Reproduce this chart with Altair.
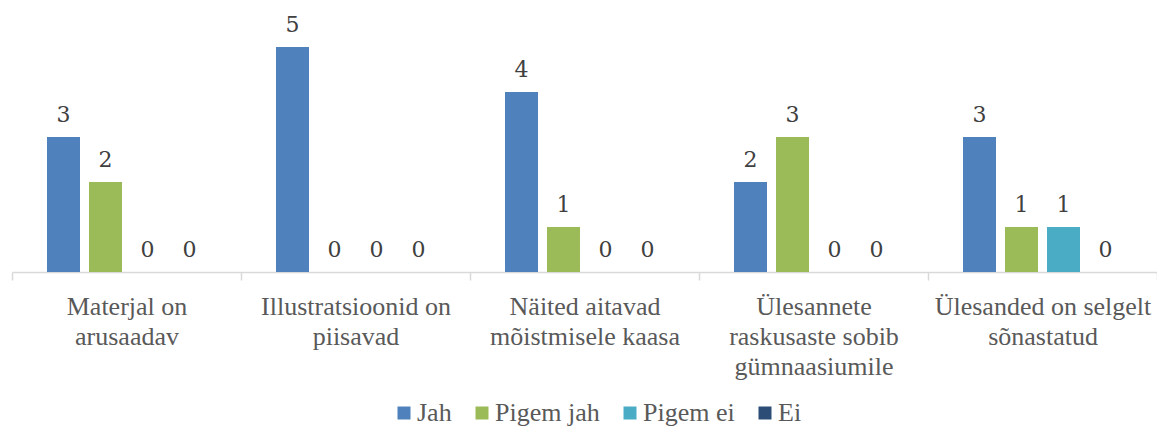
import altair as alt
import pandas as pd

categories = [
    "Materjal on|arusaadav",
    "Illustratsioonid on|piisavad",
    "Näited aitavad|mõistmisele kaasa",
    "Ülesannete|raskusaste sobib|gümnaasiumile",
    "Ülesanded on selgelt|sõnastatud",
]
series = ["Jah", "Pigem jah", "Pigem ei", "Ei"]
jah = [3, 5, 4, 2, 3]
pigem_jah = [2, 0, 1, 3, 1]
pigem_ei = [0, 0, 0, 0, 1]
ei = [0, 0, 0, 0, 0]
colors = ["#4F81BD", "#9BBB59", "#4BACC6", "#2C4D75"]

rows = []
for s, vals in zip(series, [jah, pigem_jah, pigem_ei, ei]):
    for c, v in zip(categories, vals):
        rows.append({"kategooria": c, "vastus": s, "arv": v})
df = pd.DataFrame(rows)

W = 1145
H = 264
PX_PER_UNIT = 45

x = alt.X(
    "kategooria:N",
    sort=categories,
    title=None,
    scale=alt.Scale(paddingInner=0, paddingOuter=0),
    axis=alt.Axis(
        labelExpr="split(datum.label, '|')",
        labelAngle=0,
        labelFont="Liberation Serif",
        labelFontSize=26,
        labelColor="#595959",
        labelLineHeight=30,
        labelPadding=13,
        labelLimit=0,
        labelOverlap=False,
        labelBound=False,
        labelFlush=False,
        domainColor="#D9D9D9",
        domainWidth=1.5,
        tickColor="#D9D9D9",
        tickWidth=1.5,
        tickSize=8,
        tickBand="extent",
        grid=False,
    ),
)
xo = alt.XOffset(
    "vastus:N",
    sort=series,
    scale=alt.Scale(paddingInner=9 / 42, paddingOuter=0.833),
)
y = alt.Y("arv:Q", scale=alt.Scale(domain=[0, H / PX_PER_UNIT]), axis=None)

bars = alt.Chart(df).mark_bar().encode(
    x=x,
    xOffset=xo,
    y=y,
    color=alt.Color(
        "vastus:N",
        sort=series,
        scale=alt.Scale(domain=series, range=colors),
        legend=alt.Legend(
            title=None,
            orient="none",
            direction="horizontal",
            legendX=379,
            legendY=392,
            symbolType="square",
            symbolSize=169,
            symbolStrokeWidth=0,
            labelFont="Liberation Serif",
            labelFontSize=26,
            labelColor="#595959",
            labelOffset=0,
            columnPadding=17,
        ),
    ),
)

labels = alt.Chart(df).mark_text(
    dy=-15, baseline="alphabetic", font="DejaVu Serif", fontSize=22, color="#404040"
).encode(x=x, xOffset=xo, y=y, text=alt.Text("arv:Q"))

chart = (
    alt.layer(bars, labels)
    .properties(
        width=W,
        height=H,
        padding={"left": 4, "top": 0, "right": 0, "bottom": 154},
        autosize=alt.AutoSizeParams(type="none"),
    )
    .configure_view(stroke=None)
)

chart.save("out.html", embed_options={"renderer": "svg", "actions": False})
